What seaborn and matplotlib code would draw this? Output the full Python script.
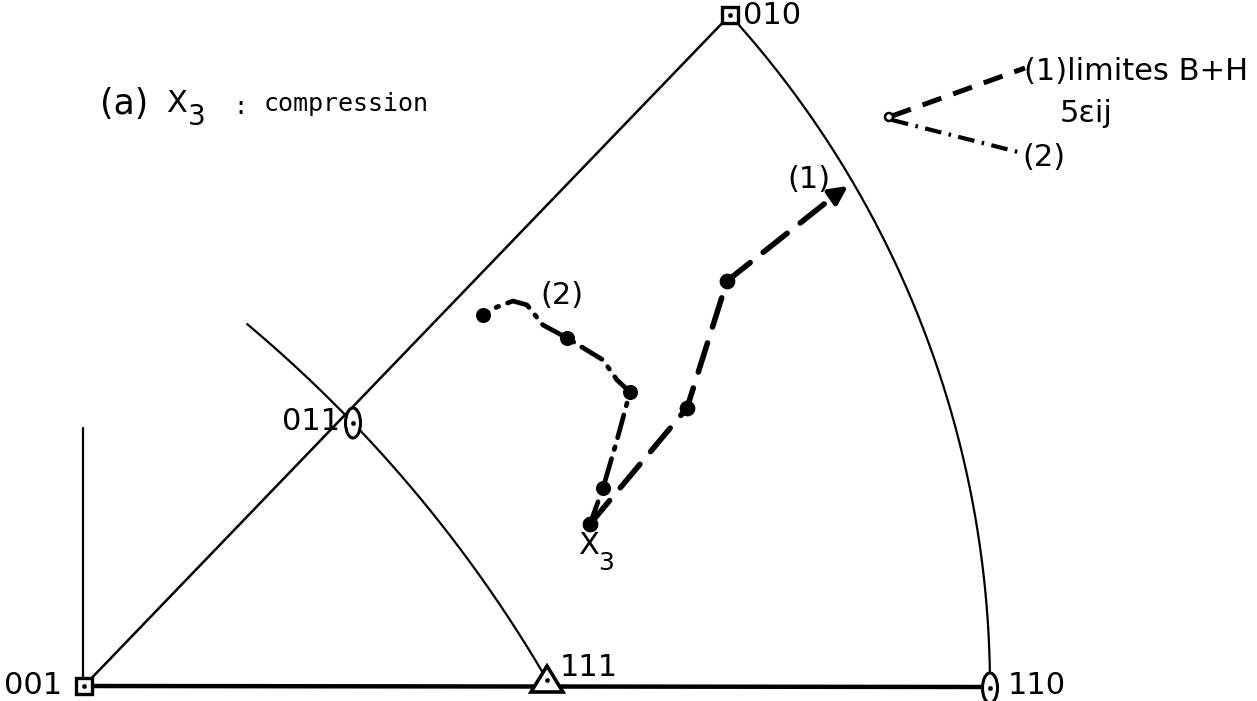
import numpy as np
import pandas as pd
import matplotlib
matplotlib.use("Agg")
import matplotlib.pyplot as plt
from matplotlib.patches import Ellipse, Rectangle, Polygon
import seaborn as sns

# Projection-plane coordinates (y grows downward)
pole_names = ["001", "010", "110", "111", "011"]
pole_x = [84, 730, 990, 547, 353]
pole_y = [686, 15, 688, 680, 423]

# Rotation path (1): Bishop-Hill limits
path1_x = [590, 687, 727, 838]
path1_y = [524, 408, 281, 193]
path1_dots_x = [590, 687, 727]
path1_dots_y = [524, 408, 281]

# Rotation path (2): 5 epsilon_ij
path2_x = [590, 603, 617, 630, 617, 603, 567, 543, 527, 513, 497, 483]
path2_y = [524, 488, 440, 392, 380, 360, 338, 325, 305, 301, 307, 315]
path2_dots_x = [590, 603, 630, 567, 483]
path2_dots_y = [524, 488, 392, 338, 315]

# Great-circle traces: centre x, centre y, radius, start angle, end angle (deg)
outer_arc = (-11, 688, 1001, -42.25, 0.0)
inner_arc = (-622, 1361, 1353, -50.03, -30.22)

sns.set_theme(style="white")
plt.rcParams["font.family"] = ["DejaVu Sans"]

fig = plt.figure(figsize=(12.57, 7.01), dpi=100)
ax = fig.add_axes([0, 0, 1, 1])
ax.set_xlim(0, 1257)
ax.set_ylim(701, 0)
ax.set_axis_off()

ink = "black"

def arc(cx, cy, r, a0, a1):
    t = np.radians(np.linspace(a0, a1, 200))
    return cx + r * np.cos(t), cy + r * np.sin(t)

# Triangle edges
ax.plot([pole_x[0], pole_x[2]], [pole_y[0], pole_y[2] - 1], color=ink, lw=3.2, solid_capstyle="butt")
ax.plot([pole_x[0], pole_x[1]], [pole_y[0], pole_y[1]], color=ink, lw=1.8)
ox, oy = arc(*outer_arc)
ax.plot(ox, oy, color=ink, lw=1.6)
ix, iy = arc(*inner_arc)
ax.plot(ix, iy, color=ink, lw=1.6)
ax.plot([83, 83], [428, 677], color=ink, lw=1.6)

# Paths
p1 = pd.DataFrame({"x": path1_x, "y": path1_y})
p2 = pd.DataFrame({"x": path2_x, "y": path2_y})
sns.lineplot(data=p1, x="x", y="y", sort=False, ax=ax, color=ink, lw=4.0,
             dashes=False, estimator=None)
ax.lines[-1].set_dashes([5.5, 3.0])
ax.lines[-1].set_dash_capstyle("round")
sns.lineplot(data=p2, x="x", y="y", sort=False, ax=ax, color=ink, lw=3.4,
             dashes=False, estimator=None)
ax.lines[-1].set_dashes([5.0, 2.0, 0.6, 2.0])
ax.lines[-1].set_dash_capstyle("round")
sns.scatterplot(x=path1_dots_x, y=path1_dots_y, ax=ax, color=ink, s=110,
                edgecolor=ink, zorder=5)
sns.scatterplot(x=path2_dots_x, y=path2_dots_y, ax=ax, color=ink, s=100,
                edgecolor=ink, zorder=5)
ax.annotate("", xy=(848, 186), xytext=(path1_x[-1], path1_y[-1]),
            arrowprops=dict(arrowstyle="-|>,head_length=0.9,head_width=0.45",
                            color=ink, lw=3.5, shrinkA=0, shrinkB=0))

# Pole symbols
for i in (0, 1):
    ax.add_patch(Rectangle((pole_x[i] - 8, pole_y[i] - 8), 16, 16, fill=True,
                           facecolor="white", edgecolor=ink, lw=2.4, zorder=6))
for i in (2, 4):
    ax.add_patch(Ellipse((pole_x[i], pole_y[i]), 15, 30, facecolor="white",
                         edgecolor=ink, lw=2.2, zorder=6))
ax.add_patch(Polygon([[pole_x[3] - 16, pole_y[3] + 12], [pole_x[3] + 16, pole_y[3] + 12],
                      [pole_x[3], pole_y[3] - 14]], closed=True, facecolor="white",
                     edgecolor=ink, lw=2.6, zorder=6))
sns.scatterplot(x=pole_x, y=pole_y, ax=ax, color=ink, s=10, edgecolor=ink, zorder=7)

# Pole labels
lab = dict(fontsize=22, color=ink, family="DejaVu Sans")
ax.text(62, 686, "001", ha="right", va="center", **lab)
ax.text(560, 668, "111", ha="left", va="center", **lab)
ax.text(1008, 686, "110", ha="left", va="center", **lab)
ax.text(743, 16, "010", ha="left", va="center", **lab)
ax.text(340, 422, "011", ha="right", va="center", **lab)

# Path labels
ax.text(540, 296, "(2)", ha="left", va="center", **lab)
ax.text(787, 180, "(1)", ha="left", va="center", **lab)
ax.text(578, 545, "X", ha="left", va="center", **lab)
ax.text(598, 563, "3", ha="left", va="center", fontsize=18, color=ink)

# Title
ax.text(100, 104, "(a)", ha="left", va="center", fontsize=25, color=ink)
ax.text(166, 104, "X", ha="left", va="center", fontsize=22, color=ink)
ax.text(188, 117, "3", ha="left", va="center", fontsize=20, color=ink)
ax.text(233, 107, ":", ha="left", va="center", fontsize=17, color=ink,
        family="DejaVu Sans Mono")
ax.text(264, 104, "compression", ha="left", va="center", fontsize=18,
        color=ink, family="DejaVu Sans Mono")

# Key
ax.plot([892, 1025], [116, 68], color=ink, lw=3.6, dashes=[4.0, 2.5])
ax.plot([892, 1022], [120, 153], color=ink, lw=3.0, dashes=[4.0, 1.8, 0.6, 1.8])
ax.add_patch(Ellipse((889, 117), 8, 8, facecolor="white", edgecolor=ink, lw=1.8, zorder=6))
ax.text(1024, 72, "(1)limites B+H", ha="left", va="center", **lab)
ax.text(1060, 113, "5εij", ha="left", va="center", **lab)
ax.text(1022, 157, "(2)", ha="left", va="center", **lab)

fig.savefig("out.png", dpi=100, facecolor="white")
